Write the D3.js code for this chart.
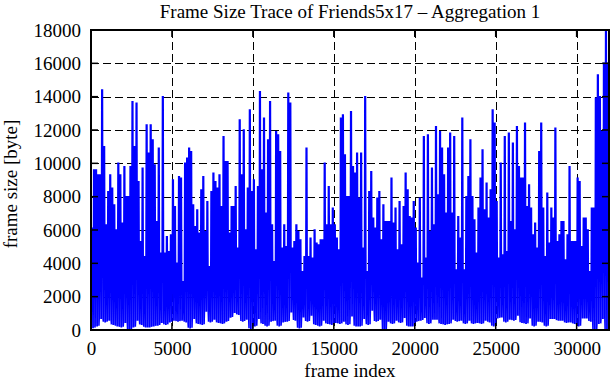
<!DOCTYPE html>
<html><head><meta charset="utf-8">
<script src="https://cdn.jsdelivr.net/npm/d3@7"></script>
<style>
body{margin:0;background:#fff}
svg{display:block}
text{font-family:"Liberation Serif","Times New Roman",serif;fill:#000}
</style>
</head><body>
<svg id="chart" width="611" height="380"></svg>
<script>
// ---- data ----
const framesPerBin = 125;            // each peak value = largest frame in a 125-frame block
const framesPerTroughBin = 250;      // each trough value = smallest frame in a 250-frame block
const peakSizes = [
  6100, 9600, 9600, 9300, 9300, 14400, 11000, 6300, 8300, 9300,
  8500, 7500, 6000, 10000, 9300, 6400, 9800, 8000, 8000, 9800,
  13700, 11000, 13600, 8900, 5300, 9700, 4400, 12300, 10600, 12300,
  11400, 9900, 6500, 10900, 4600, 14000, 4600, 5600, 4700, 5700,
  9000, 7400, 4000, 9200, 9100, 2900, 10000, 10300, 10900,
  10700, 7500, 6200, 7200, 5800, 8400, 9200, 5900, 7700, 3800,
  8300, 9400, 8900, 8500, 9300, 7400, 11600, 10100, 10100, 5800,
  7400, 7400, 8600, 4900, 12600, 9300, 12000, 6000, 8500, 13200,
  8300, 9000, 4800, 8600, 14300, 9600, 12700, 7000, 11400, 13700,
  6300, 4100, 11900, 11700, 10700, 4900, 6300, 5000, 14200, 13600,
  4900, 5300, 6300, 5900, 5400, 3500, 4400, 10900, 4400, 5500,
  4300, 6000, 5200, 5100, 5400, 5400, 10000, 6300, 8600, 6300,
  7300, 6300, 5500, 4800, 12700, 12900, 10500, 8000, 8000, 13100,
  9800, 9400, 10600, 7900, 10600, 4900, 14000, 3500, 8300, 9500,
  6700, 6100, 7900, 8300, 5400, 7500, 6500, 6500, 6500,
  9100, 6400, 7300, 4800, 7700, 5100, 7400, 9400, 8400, 6800,
  6700, 7700, 6100, 4000, 7900, 3100, 11600, 4300, 11700, 5900,
  9700, 6300, 12200, 8100, 11900, 10900, 9300, 7000, 10900, 11800,
  7000, 11600, 3600, 6800, 5500, 12700, 3600, 8000, 9200, 11400,
  8000, 6600, 4600, 7300, 9100, 10800, 7200, 8800, 6700, 8400,
  13200, 12400, 7700, 4300, 10000, 4500, 11600, 4700, 11800, 6500,
  11200, 6000, 12200, 9800, 9100, 9100, 12400, 7400, 8700, 7300,
  5700, 6400, 4900, 10700, 12400, 7300, 4400, 8200, 5200, 7300,
  6700, 12100, 5300, 5700, 6500, 6500, 4200, 5700, 9800, 5300,
  5300, 5300, 9100, 8900, 5000, 6700, 6700, 6000, 3500, 7300,
  7300, 13900, 15300, 14000, 11900, 16000, 17900, 16000
];
const troughSizes = [
  150, 260, 700, 500, 600, 340, 260, 200, 460, 0,
  200, 600, 340, 200, 200, 260, 300, 460, 340, 500,
  600, 540, 600, 500, 140, 700, 400, 340, 1140, 500,
  660, 460, 400, 540, 780, 1060, 940, 540, 660, 100,
  260, 700, 400, 260, 540, 600, 260, 500, 540, 1100,
  600, 140, 800, 540, 900, 340, 260, 600, 400, 340,
  460, 400, 540, 340, 860, 260, 260, 700, 340, 1200,
  540, 660, 0, 540, 400, 600, 460, 760, 260, 260,
  540, 600, 760, 400, 660, 660, 400, 340, 400, 660,
  540, 600, 400, 600, 400, 460, 400, 600, 500, 260,
  740, 800, 500, 660, 600, 900, 460, 400, 740, 260,
  540, 500, 260, 700, 700, 600, 600, 460, 500, 400,
  260, 740, 740, 540, 0, 400, 700, 0
];
const xDomain = [0, 32000];
const yDomain = [0, 18000];
const xTicks = [0, 5000, 10000, 15000, 20000, 25000, 30000];
const yTicks = [0, 2000, 4000, 6000, 8000, 10000, 12000, 14000, 16000, 18000];
const titleText = "Frame Size Trace of Friends5x17 \u2013 Aggregation 1";
const xLabelText = "frame index";
const yLabelText = "frame size [byte]";

// ---- layout ----
const W = 611, H = 380;
const margin = {left: 91, right: 2, top: 30, bottom: 50};
const fontSize = 19;
const svg = d3.select("#chart");

const x = d3.scaleLinear().domain(xDomain).range([margin.left, W - margin.right]);
const y = d3.scaleLinear().domain(yDomain).range([H - margin.bottom, margin.top]);
const px = v => Math.round(v) + 0.5;

// grid (behind the trace)
const grid = svg.append("g");
grid.selectAll("line.gy").data(yTicks.filter(v => v > yDomain[0] && v < yDomain[1])).join("line")
  .attr("x1", x(xDomain[0])).attr("x2", x(xDomain[1]))
  .attr("y1", d => px(y(d))).attr("y2", d => px(y(d)))
  .attr("stroke", "#000").attr("stroke-width", 1).attr("stroke-dasharray", "8,4");
grid.selectAll("line.gx").data(xTicks.filter(v => v > xDomain[0] && v < xDomain[1])).join("line")
  .attr("y1", y(yDomain[1])).attr("y2", y(yDomain[0]))
  .attr("x1", d => px(x(d))).attr("x2", d => px(x(d)))
  .attr("stroke", "#000").attr("stroke-width", 1).attr("stroke-dasharray", "8,4");

// trace
const pts = [];
peakSizes.forEach((peak, i) => {
  const lo = troughSizes[Math.floor(i * framesPerBin / framesPerTroughBin)];
  const s = i * framesPerBin;
  pts.push([s + 10, lo], [s + 40, peak], [s + 85, peak], [s + 115, lo]);
});
svg.append("path").datum(pts)
  .attr("d", d3.line().x(d => x(d[0])).y(d => y(d[1])))
  .attr("fill", "none").attr("stroke", "#0000ff").attr("stroke-width", 1.5)
  .attr("stroke-linejoin", "miter");

// border
svg.append("rect")
  .attr("x", x(xDomain[0])).attr("y", y(yDomain[1]))
  .attr("width", x(xDomain[1]) - x(xDomain[0])).attr("height", y(yDomain[0]) - y(yDomain[1]))
  .attr("fill", "none").attr("stroke", "#000").attr("stroke-width", 2);

// inward ticks on all sides
const tk = svg.append("g").attr("stroke", "#000").attr("stroke-width", 1.5);
const tl = 7;
xTicks.forEach(v => {
  tk.append("line").attr("x1", x(v)).attr("x2", x(v)).attr("y1", y(yDomain[0])).attr("y2", y(yDomain[0]) - tl);
  tk.append("line").attr("x1", x(v)).attr("x2", x(v)).attr("y1", y(yDomain[1])).attr("y2", y(yDomain[1]) + tl);
});
yTicks.forEach(v => {
  tk.append("line").attr("y1", y(v)).attr("y2", y(v)).attr("x1", x(xDomain[0])).attr("x2", x(xDomain[0]) + tl);
  tk.append("line").attr("y1", y(v)).attr("y2", y(v)).attr("x1", x(xDomain[1])).attr("x2", x(xDomain[1]) - tl);
});

// axes (labels only)
const ax = svg.append("g").attr("transform", `translate(0,${y(yDomain[0])})`)
  .call(d3.axisBottom(x).tickValues(xTicks).tickFormat(d3.format("d")).tickSize(0).tickPadding(12));
const ay = svg.append("g").attr("transform", `translate(${x(xDomain[0])},0)`)
  .call(d3.axisLeft(y).tickValues(yTicks).tickFormat(d3.format("d")).tickSize(0).tickPadding(10));
[ax, ay].forEach(g => {
  g.select(".domain").remove();
  g.selectAll("text").attr("font-family", null).style("font-family", "'Liberation Serif','Times New Roman',serif")
    .style("font-size", fontSize + "px").attr("fill", "#000");
});

const cx = (x(xDomain[0]) + x(xDomain[1])) / 2;
svg.append("text").attr("x", cx).attr("y", 18).attr("text-anchor", "middle")
  .style("font-size", fontSize + "px").text(titleText);
svg.append("text").attr("x", cx).attr("y", 377).attr("text-anchor", "middle")
  .style("font-size", fontSize + "px").text(xLabelText);
svg.append("text").attr("transform", `translate(17,${(y(yDomain[0]) + y(yDomain[1])) / 2 + 4}) rotate(-90)`)
  .attr("text-anchor", "middle").style("font-size", fontSize + "px").text(yLabelText);
</script>
</body></html>
